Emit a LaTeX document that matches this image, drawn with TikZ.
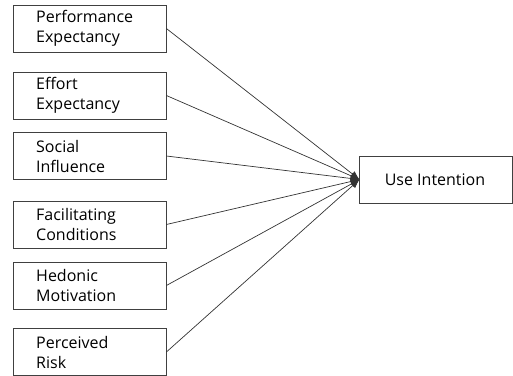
\documentclass[tikz,border=0pt]{standalone}
\usepackage{fontspec}
\setmainfont{Open Sans}
\usetikzlibrary{arrows.meta}
\begin{document}
\begin{tikzpicture}[x=1pt,y=-1pt,
  box/.style={draw=black!75,line width=0.8pt,minimum width=153pt,minimum height=47pt,inner sep=0pt},
  lbl/.style={align=left,font=\fontsize{16}{20}\selectfont,anchor=west,inner sep=0pt},
  conn/.style={draw=black!80,line width=0.7pt,-{Latex[length=9pt,width=7pt]}}]
\useasboundingbox (0,0) rectangle (513,375);
\clip (0,0) rectangle (513,375);
\node[box] (pe) at (89.5,28.5) {};
\node[box] (ee) at (89.5,95.5) {};
\node[box] (si) at (89.5,156) {};
\node[box] (fc) at (89.5,224.5) {};
\node[box] (hm) at (89.5,285.5) {};
\node[box] (pr) at (89.5,352) {};
\node[lbl] at (36,28.5) {Performance\\Expectancy};
\node[lbl] at (36,95.5) {Effort\\Expectancy};
\node[lbl] at (36,156) {Social\\Influence};
\node[lbl] at (36,224.5) {Facilitating\\Conditions};
\node[lbl] at (36,285.5) {Hedonic\\Motivation};
\node[lbl] at (36,352) {Perceived\\Risk};
\node[box,minimum width=153pt] (ui) at (436,179.5) {};
\node[font=\fontsize{16}{20}\selectfont,inner sep=0pt] at (435,180) {Use Intention};
\coordinate (tip) at (359.5,179.5);
\foreach \n in {pe,ee,si,fc,hm,pr}{
  \draw[conn] (\n.east) -- (tip);
}
\end{tikzpicture}
\end{document}
